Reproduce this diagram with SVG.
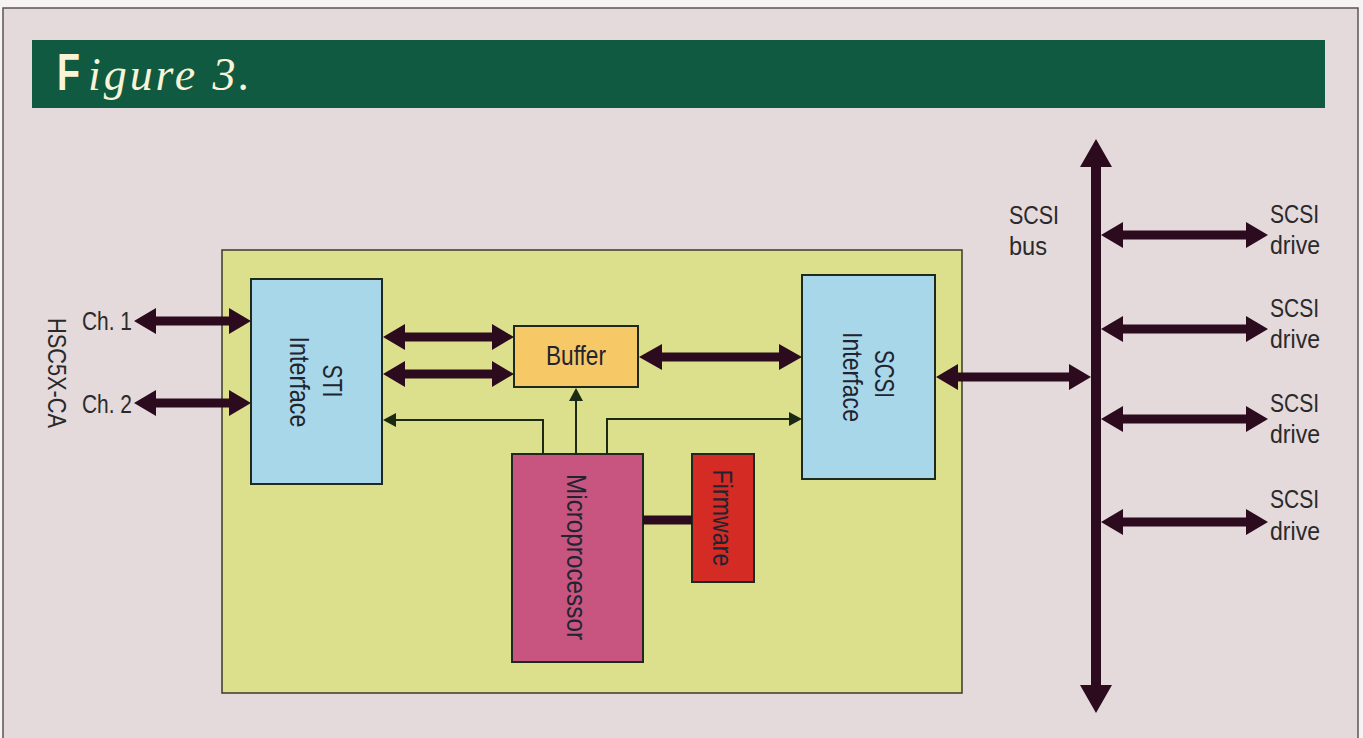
<svg xmlns="http://www.w3.org/2000/svg" width="1363" height="738" viewBox="0 0 1363 738">
<style>
.lbl{font-family:"Liberation Sans",Arial,sans-serif;font-size:26px;fill:#2a2a2a}
.blbl{font-family:"Liberation Sans",Arial,sans-serif;font-size:28px;fill:#1e2430}
.box{stroke:#1f2a1f;stroke-width:2}
.thick{fill:#2c0b1f}
.thin{fill:none;stroke:#1c2a14;stroke-width:2}
.tip{fill:#1c2a14}
</style>
<rect x="0" y="0" width="1363" height="738" fill="#f6f3f2"/>
<rect x="3" y="8" width="1355" height="740" fill="#e4d9db" stroke="#5a5558" stroke-width="1.5"/>
<g id="header">
<rect x="32" y="40" width="1293" height="68" fill="#0f5a40"/>
<text x="57" y="90" font-family="'Liberation Sans',sans-serif" font-weight="bold" font-size="52" fill="#fbf3d6" textLength="23" lengthAdjust="spacingAndGlyphs">F</text>
<text x="88" y="90" font-family="'Liberation Serif',serif" font-style="italic" font-size="46" fill="#fbf3d6" textLength="162" lengthAdjust="spacing">igure 3.</text>
</g>
<g id="board"><rect x="222" y="250" width="740" height="443" fill="#dce08c" stroke="#3a3a2a" stroke-width="1.5"/></g>
<g id="sti">
<rect class="box" x="251" y="279" width="131" height="205" fill="#a9d7ea"/>
<text class="blbl" transform="translate(323,381) rotate(90)" text-anchor="middle" textLength="33" lengthAdjust="spacingAndGlyphs">STI</text>
<text class="blbl" transform="translate(290,382) rotate(90)" text-anchor="middle" textLength="91" lengthAdjust="spacingAndGlyphs">Interface</text>
</g>
<g id="buffer">
<rect class="box" x="514" y="326" width="124" height="61" fill="#f7c866"/>
<text class="blbl" x="576" y="365" text-anchor="middle" textLength="60" lengthAdjust="spacingAndGlyphs">Buffer</text>
</g>
<g id="scsi-if">
<rect class="box" x="802" y="275" width="133" height="204" fill="#a9d7ea"/>
<text class="blbl" transform="translate(875,374) rotate(90)" text-anchor="middle" textLength="48" lengthAdjust="spacingAndGlyphs">SCSI</text>
<text class="blbl" transform="translate(843,377) rotate(90)" text-anchor="middle" textLength="90" lengthAdjust="spacingAndGlyphs">Interface</text>
</g>
<g id="micro">
<rect class="box" x="512" y="454" width="131" height="208" fill="#c7557f"/>
<text class="blbl" transform="translate(567,557) rotate(90)" text-anchor="middle" textLength="166" lengthAdjust="spacingAndGlyphs">Microprocessor</text>
</g>
<g id="firmware">
<rect class="box" x="692" y="454" width="62" height="128" fill="#d42b24"/>
<text class="blbl" transform="translate(713,518) rotate(90)" text-anchor="middle" textLength="97" lengthAdjust="spacingAndGlyphs">Firmware</text>
</g>
<g id="labels">
<text class="lbl" transform="translate(48,373) rotate(90)" text-anchor="middle" textLength="110" lengthAdjust="spacingAndGlyphs">HSC5X-CA</text>
<text class="lbl" x="82" y="330" textLength="50" lengthAdjust="spacingAndGlyphs">Ch. 1</text>
<text class="lbl" x="82" y="413" textLength="50" lengthAdjust="spacingAndGlyphs">Ch. 2</text>
<text class="lbl" x="1009" y="224" textLength="50" lengthAdjust="spacingAndGlyphs">SCSI</text>
<text class="lbl" x="1009" y="255" textLength="38" lengthAdjust="spacingAndGlyphs">bus</text>
<text class="lbl" x="1270" y="223" textLength="49" lengthAdjust="spacingAndGlyphs">SCSI</text>
<text class="lbl" x="1270" y="254" textLength="50" lengthAdjust="spacingAndGlyphs">drive</text>
<text class="lbl" x="1270" y="317" textLength="49" lengthAdjust="spacingAndGlyphs">SCSI</text>
<text class="lbl" x="1270" y="348" textLength="50" lengthAdjust="spacingAndGlyphs">drive</text>
<text class="lbl" x="1270" y="412" textLength="49" lengthAdjust="spacingAndGlyphs">SCSI</text>
<text class="lbl" x="1270" y="443" textLength="50" lengthAdjust="spacingAndGlyphs">drive</text>
<text class="lbl" x="1270" y="508" textLength="49" lengthAdjust="spacingAndGlyphs">SCSI</text>
<text class="lbl" x="1270" y="540" textLength="50" lengthAdjust="spacingAndGlyphs">drive</text>
</g>
<g id="connectors">
<polygon class="thick" points="134,321 156,308 156,316.5 229,316.5 229,308 251,321 229,334 229,325.5 156,325.5 156,334"/>
<polygon class="thick" points="134,403 156,390 156,398.5 229,398.5 229,390 251,403 229,416 229,407.5 156,407.5 156,416"/>
<polygon class="thick" points="383,337 405,324 405,332.5 492,332.5 492,324 514,337 492,350 492,341.5 405,341.5 405,350"/>
<polygon class="thick" points="383,374 405,361 405,369.5 492,369.5 492,361 514,374 492,387 492,378.5 405,378.5 405,387"/>
<polygon class="thick" points="639,357 662,344 662,352.5 779,352.5 779,344 802,357 779,370 779,361.5 662,361.5 662,370"/>
<polygon class="thick" points="936,377 958,364 958,372.5 1069,372.5 1069,364 1091,377 1069,390 1069,381.5 958,381.5 958,390"/>
<polygon class="thick" points="1096,139 1112,167 1101,167 1101,685 1112,685 1096,713 1080,685 1091,685 1091,167 1080,167"/>
<polygon class="thick" points="1101,235 1123,222 1123,230.5 1246,230.5 1246,222 1268,235 1246,248 1246,239.5 1123,239.5 1123,248"/>
<polygon class="thick" points="1101,329 1123,316 1123,324.5 1246,324.5 1246,316 1268,329 1246,342 1246,333.5 1123,333.5 1123,342"/>
<polygon class="thick" points="1101,419 1123,406 1123,414.5 1246,414.5 1246,406 1268,419 1246,432 1246,423.5 1123,423.5 1123,432"/>
<polygon class="thick" points="1101,522 1123,509 1123,517.5 1246,517.5 1246,509 1268,522 1246,535 1246,526.5 1123,526.5 1123,535"/>
<rect class="thick" x="643" y="515.5" width="49" height="9"/>
<polyline class="thin" points="543,454 543,420 394,420"/>
<polygon class="tip" points="383,420 396,413 396,427"/>
<line class="thin" x1="576" y1="454" x2="576" y2="399"/>
<polygon class="tip" points="576,388 583,401 569,401"/>
<polyline class="thin" points="607,454 607,419 790,419"/>
<polygon class="tip" points="802,419 789,412 789,426"/>
</g>
</svg>
